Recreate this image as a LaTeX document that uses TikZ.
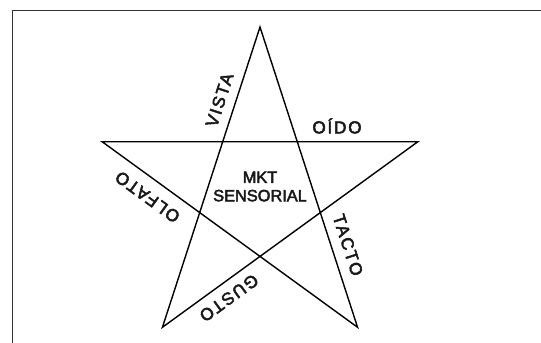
\documentclass[tikz,border=0pt]{standalone}
\usepackage{fontspec}
\setmainfont{Liberation Sans}[FakeBold=3]
\newfontfamily\sensefont{Liberation Sans}[FakeBold=3, LetterSpace=10]
\usepackage{tikz}
\usetikzlibrary{
  calc,
  positioning
}
\tikzset{
  starline/.style={
    draw, line width=0.8pt, line join=miter
  },
  sense/.style={
    inner sep=0pt, font=\sensefont\fontsize{9.8}{11}\selectfont, text=black!90
  },
  centerlabel/.style={
    inner sep=0pt, align=center,
    font=\fontsize{9.3}{10.5}\selectfont, text=black!90
  },
  frameline/.style={
    draw, line width=1pt, black!80
  }
}

\begin{document}
\begin{tikzpicture}[x=0.02cm, y=0.02cm]

\useasboundingbox (0,0) rectangle (541,342);

% Frame
\coordinate (fbl) at (12.5,-5);
\coordinate (ftr) at (546,331.5);
\draw[frameline] (fbl) |- (ftr);

% Star
\coordinate (c) at (260,149);
\foreach \i/\a in {1/90, 2/162, 3/234, 4/306, 5/18}
  \coordinate (v\i) at ($(c)+(\a:166)$);
\draw[starline] (v1) -- (v3) -- (v5) -- (v2) -- (v4) -- cycle;

% Centre
\node[centerlabel] (mkt) at (260,155.5) {MKT\\SENSORIAL};

% Senses
\node[sense, rotate=72] (vista) at (219.5,242) {VISTA};
\node[sense] (oido) at (337,216) {OÍDO};
\node[sense, rotate=144] (olfato) at (147.5,145) {OLFATO};
\node[sense, rotate=-72] (tacto) at (348,97) {TACTO};
\node[sense, rotate=216] (gusto) at (229,44) {GUSTO};

\end{tikzpicture}
\end{document}
